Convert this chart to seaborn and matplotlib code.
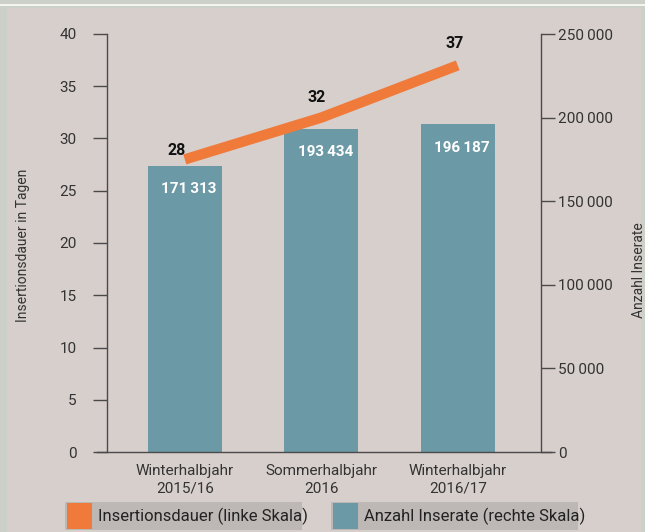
import matplotlib
matplotlib.use("Agg")
import matplotlib.pyplot as plt
import matplotlib.patches as mpatches
import seaborn as sns
import pandas as pd

categories = ["Winterhalbjahr\n2015/16", "Sommerhalbjahr\n2016", "Winterhalbjahr\n2016/17"]
insertionsdauer = [28, 32, 37]
anzahl_inserate = [171313, 193434, 196187]
left_ticks = [0, 5, 10, 15, 20, 25, 30, 35, 40]
right_ticks = [0, 50000, 100000, 150000, 200000, 250000]

BG = "#d7cfcc"
BORDER = "#cbd1c8"
TEAL = "#6b99a5"
ORANGE = "#f07a3a"
SPINE = "#4a4a4a"
FONT = ["Liberation Sans Narrow", "Roboto", "DejaVu Sans"]

sns.set_theme(style="white")
plt.rcParams["font.family"] = FONT

W, H = 645, 532
fig = plt.figure(figsize=(W / 100, H / 100), dpi=100, facecolor=BORDER)

def px(x0, y0, x1, y1):
    return (x0 / W, 1 - y1 / H, (x1 - x0) / W, (y1 - y0) / H)

def rect(x0, y0, x1, y1, color, z=0):
    r = px(x0, y0, x1, y1)
    fig.add_artist(mpatches.Rectangle(r[:2], r[2], r[3], transform=fig.transFigure,
                                      facecolor=color, edgecolor="none", zorder=z))

# inner background and top white line
rect(7, 8, 641, 532, BG)
rect(0, 4, 645, 6, "#f4f4ee")

ax1 = fig.add_axes(px(107, 34, 541, 452))
ax2 = ax1.twinx()

df = pd.DataFrame({"Kategorie": categories, "Dauer": insertionsdauer, "Inserate": anzahl_inserate})

sns.barplot(data=df, x="Kategorie", y="Inserate", ax=ax2, color=TEAL, width=0.545,
            saturation=1, edgecolor="none")
ax1.plot(range(len(categories)), df["Dauer"], color=ORANGE, lw=7.5, solid_capstyle="butt", zorder=3)

ax1.set_zorder(ax2.get_zorder() + 1)
ax1.patch.set_visible(False)
ax2.patch.set_visible(False)

ax1.set_xlim(-0.57, 2.61)
ax1.set_ylim(0, 40)
ax2.set_ylim(0, 250000)

ax1.set_yticks(left_ticks)
ax1.set_yticklabels([str(t) for t in left_ticks], fontsize=11, color="#333333")
ax2.set_yticks(right_ticks)
ax2.set_yticklabels([f"{t:,}".replace(",", "\u2009") for t in right_ticks], fontsize=11, color="#333333")

ax1.set_xticks(range(len(categories)))
ax1.set_xticklabels(categories, fontsize=11, color="#333333", linespacing=1.3)
ax2.set_xlabel("")
ax2.set_ylabel("")
ax1.set_xlabel("")

for ax in (ax1, ax2):
    for s in ax.spines.values():
        s.set_visible(False)
ax1.spines["left"].set_visible(True)
ax1.spines["bottom"].set_visible(True)
ax2.spines["right"].set_visible(True)
for s in (ax1.spines["left"], ax1.spines["bottom"], ax2.spines["right"]):
    s.set_color(SPINE)
    s.set_linewidth(1.0)

ax1.tick_params(axis="y", which="both", left=True, length=10, width=1, color=SPINE, pad=12, direction="out")
ax2.tick_params(axis="y", which="both", right=True, length=10, width=1, color=SPINE, pad=2, direction="out")
ax1.tick_params(axis="x", bottom=False, pad=3)
ax2.tick_params(axis="x", bottom=False, labelbottom=False)

# extend bottom line under both outer ticks
ax1.spines["bottom"].set_bounds(-0.57 - 10 / 136.5, 2.61 + 10 / 136.5)

ax1.set_ylabel("Insertionsdauer in Tagen", fontsize=10, color="#333333")
ax1.yaxis.set_label_coords(-0.177, 0.495)
ax2.set_ylabel("Anzahl Inserate", fontsize=10, color="#333333", rotation=90)
ax2.yaxis.set_label_position("right")
ax2.yaxis.set_label_coords(1.21, 0.435)

# value labels on line
line_offsets = [(-6, 6.5), (-3, 14.5), (-2, 16)]
for i, (v, off) in enumerate(zip(insertionsdauer, line_offsets)):
    ax1.annotate(str(v), (i, v), xytext=off, textcoords="offset points", ha="center", va="center",
                 fontsize=11.5, fontweight="bold", color="#111111", zorder=5)

# value labels on bars
for i, v in enumerate(anzahl_inserate):
    ax2.annotate(f"{v:,}".replace(",", "\u2009"), (i, v), xytext=(3, -17), textcoords="offset points",
                 ha="center", va="center", fontsize=11, fontweight="semibold", color="white")

# legend boxes
def legend_item(x0, x1, color, label):
    rect(x0, 502, x1, 530, "#bdb8b5", z=1)
    rect(x0 + 2, 503, x0 + 27, 529, color, z=2)
    fig.text((x0 + 33) / W, 1 - 516 / H, label, fontsize=12, color="#222222", va="center", ha="left")

legend_item(65, 302, ORANGE, "Insertionsdauer (linke Skala)")
legend_item(331, 578, TEAL, "Anzahl Inserate (rechte Skala)")

fig.savefig("out.png", dpi=100, facecolor=BORDER)
